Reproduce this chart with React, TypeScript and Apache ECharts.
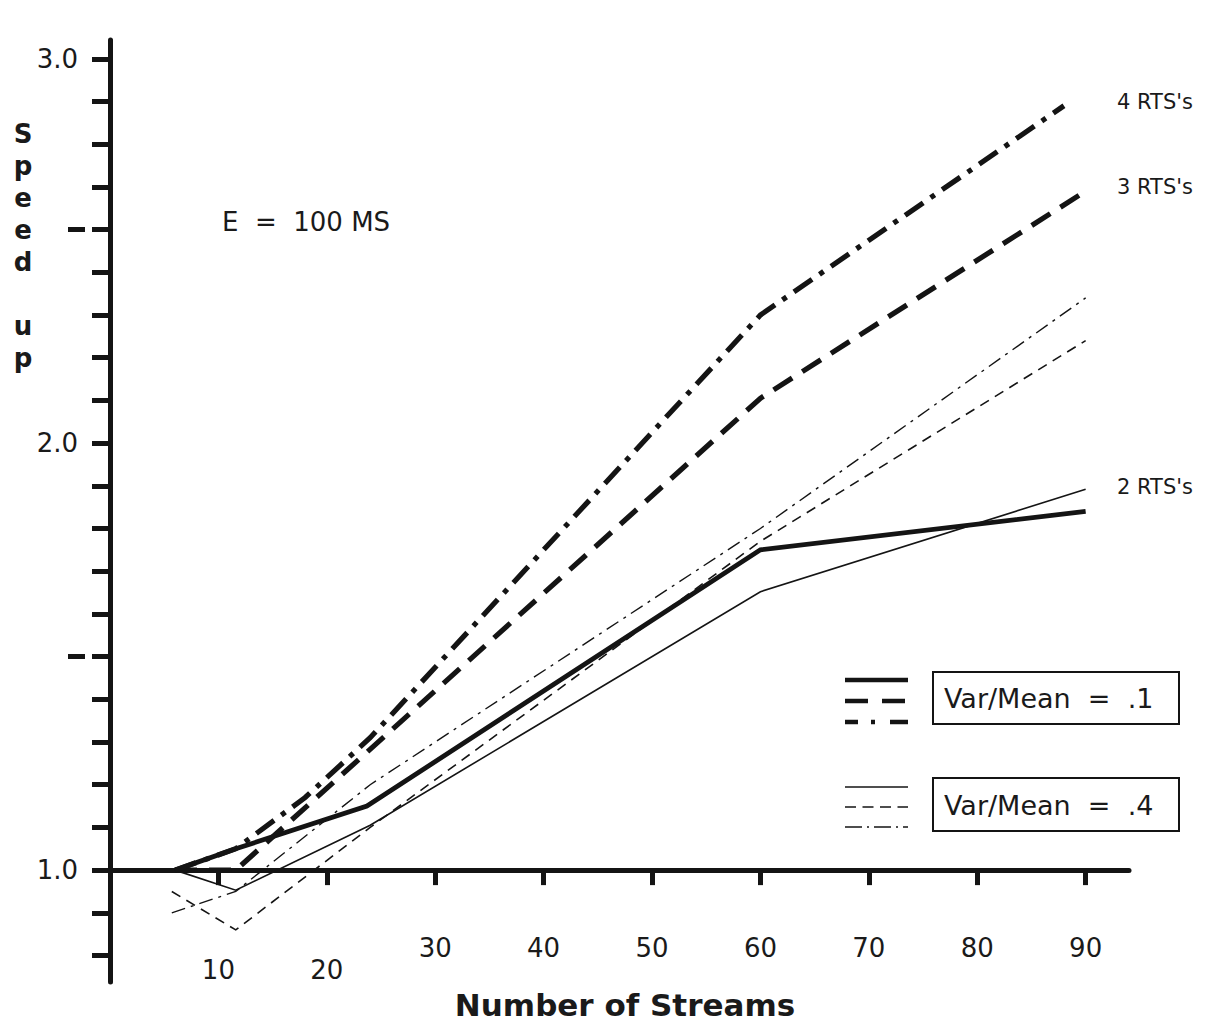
import React, { useEffect, useRef } from "react";
import * as echarts from "echarts";

// Series values: [number of streams, speed up]
const thickSolid2 = [[6, 1.0], [11.6, 1.05], [23.7, 1.15], [60, 1.75], [90, 1.84]];
const thickDashed3 = [[6, 1.0], [11.6, 1.0], [60, 2.105], [90, 2.59]];
const thickDashDot4 = [[6, 1.0], [11.6, 1.05], [18, 1.17], [24, 1.31], [60, 2.3], [88, 2.79]];
const thinSolid2 = [[6, 1.0], [11.6, 0.953], [24, 1.105], [60, 1.652], [90, 1.892]];
const thinDashed3 = [[5.7, 0.95], [11.6, 0.86], [24, 1.1], [60, 1.77], [90, 2.24]];
const thinDashDot4 = [[5.7, 0.9], [11.6, 0.95], [24, 1.2], [60, 1.8], [90, 2.34]];

const xTicks = [10, 20, 30, 40, 50, 60, 70, 80, 90];
const xLowLabels = [10, 20];
const yTicks = [0.8, 0.9, 1.0, 1.1, 1.2, 1.3, 1.4, 1.5, 1.6, 1.7, 1.8, 1.9, 2.0, 2.1, 2.2, 2.3, 2.4, 2.5, 2.6, 2.7, 2.8, 2.9];
const yLabelValues = [1.0, 2.0, 2.9];
const yLabelTexts = ["1.0", "2.0", "3.0"];
const yHalfMarks = [1.5, 2.5];

const yTitleLetters = ["S", "p", "e", "e", "d", "u", "p"];
const seriesLabels = ["4 RTS's", "3 RTS's", "2 RTS's"];
const legendTexts = ["Var/Mean  =  .1", "Var/Mean  =  .4"];

const INK = "#141414";
const TEXT = "#1a1a1a";
const FONT = "'DejaVu Sans', 'Open Sans', sans-serif";

const THICK_DASH = [22, 12];
const THICK_DASHDOT = [22, 9, 5, 9];
const THIN_DASH = [10, 7];
const THIN_DASHDOT = [14, 6, 3, 6];

const Y_MIN = 0.738;
const Y_MAX = 2.944;
const X_AXIS_AT = 1.0;
const GRID_TOP = 40;
const GRID_BOTTOM = 45;
const HEIGHT = 1027;

export default function App() {
  const ref = useRef<HTMLDivElement>(null);

  useEffect(() => {
    if (!ref.current) return;
    const chart = echarts.init(ref.current, undefined, { renderer: "svg" });

    const gridH = HEIGHT - GRID_TOP - GRID_BOTTOM;
    const xAxisOffset = -((X_AXIS_AT - Y_MIN) / (Y_MAX - Y_MIN)) * gridH;

    const line = (data: number[][], width: number, type: any, z: number) => ({
      type: "line",
      data,
      symbol: "none",
      silent: true,
      z,
      lineStyle: { color: INK, width, type, cap: "butt", join: "miter" },
    });

    const legendLine = (y: number, width: number, dash: any) => ({
      type: "line",
      shape: { x1: 845, y1: y, x2: 908, y2: y },
      style: { stroke: INK, lineWidth: width, lineDash: dash, lineCap: "butt" },
    });

    const yTitleBaselines = [147, 179, 211, 243, 275, 339, 371];
    const yTitle = yTitleLetters.map((ch, i) => ({
      type: "text",
      x: 23,
      y: yTitleBaselines[i],
      style: {
        text: ch,
        fontSize: 26,
        fontWeight: "bold",
        fill: TEXT,
        fontFamily: FONT,
        align: "center",
        verticalAlign: "bottom",
      },
    }));

    const rtsLabel = (text: string, y: number) => ({
      type: "text",
      x: 1117,
      y,
      style: { text, fontSize: 21, fill: TEXT, fontFamily: FONT, verticalAlign: "middle" },
    });

    const option: any = {
      animation: false,
      backgroundColor: "#ffffff",
      grid: {
        left: 110,
        right: 77,
        top: GRID_TOP,
        bottom: GRID_BOTTOM,
        containLabel: false,
        outerBoundsMode: "none",
      },
      xAxis: {
        type: "value",
        min: 0,
        max: 94,
        offset: xAxisOffset,
        axisLine: { show: true, onZero: false, lineStyle: { color: INK, width: 5 } },
        axisTick: {
          show: true,
          customValues: xTicks,
          length: 15,
          inside: false,
          lineStyle: { color: INK, width: 5 },
        },
        axisLabel: {
          show: true,
          customValues: xTicks,
          margin: 67,
          fontSize: 26,
          lineHeight: 22,
          color: TEXT,
          fontFamily: FONT,
          formatter: (v: number) => (xLowLabels.includes(v) ? "\n" + v : String(v)),
        },
        splitLine: { show: false },
      },
      yAxis: [
        {
          type: "value",
          min: Y_MIN,
          max: Y_MAX,
          position: "left",
          axisLine: { show: true, onZero: false, lineStyle: { color: INK, width: 5 } },
          axisTick: {
            show: true,
            customValues: yTicks,
            length: 18,
            inside: false,
            lineStyle: { color: INK, width: 5 },
          },
          axisLabel: {
            show: true,
            customValues: yLabelValues,
            margin: 32,
            fontSize: 26,
            color: TEXT,
            fontFamily: FONT,
            formatter: (v: number) => {
              const i = yLabelValues.findIndex((t) => Math.abs(t - v) < 1e-6);
              return i >= 0 ? yLabelTexts[i] : "";
            },
          },
          splitLine: { show: false },
        },
        {
          type: "value",
          min: Y_MIN,
          max: Y_MAX,
          position: "left",
          offset: 25,
          axisLine: { show: false, onZero: false },
          axisTick: {
            show: true,
            customValues: yHalfMarks,
            length: 17,
            inside: false,
            lineStyle: { color: INK, width: 5 },
          },
          axisLabel: { show: false },
          splitLine: { show: false },
        },
      ],
      series: [
        line(thinSolid2, 1.6, "solid", 2),
        line(thinDashed3, 1.6, THIN_DASH, 2),
        line(thinDashDot4, 1.4, THIN_DASHDOT, 2),
        line(thickSolid2, 4.8, "solid", 3),
        line(thickDashed3, 5.2, THICK_DASH, 3),
        line(thickDashDot4, 5.2, THICK_DASHDOT, 3),
      ],
      graphic: [
        ...yTitle,
        {
          type: "text",
          x: 222,
          y: 222,
          style: {
            text: "E  =  100 MS",
            fontSize: 26,
            fill: TEXT,
            fontFamily: FONT,
            verticalAlign: "middle",
          },
        },
        rtsLabel(seriesLabels[0], 102),
        rtsLabel(seriesLabels[1], 187),
        rtsLabel(seriesLabels[2], 487),
        legendLine(680, 4.5, null),
        legendLine(701, 4.5, [23, 14]),
        legendLine(722, 4.5, [13, 13, 4, 15, 20]),
        legendLine(787, 1.6, null),
        legendLine(807, 1.6, [11, 6.5]),
        legendLine(827, 1.4, [17, 5, 2, 5]),
        {
          type: "rect",
          shape: { x: 933, y: 672, width: 246, height: 52 },
          style: { fill: "none", stroke: INK, lineWidth: 2 },
        },
        {
          type: "rect",
          shape: { x: 933, y: 778, width: 246, height: 53 },
          style: { fill: "none", stroke: INK, lineWidth: 2 },
        },
        {
          type: "text",
          x: 944,
          y: 698,
          style: { text: legendTexts[0], fontSize: 27, fill: TEXT, fontFamily: FONT, verticalAlign: "middle" },
        },
        {
          type: "text",
          x: 944,
          y: 805,
          style: { text: legendTexts[1], fontSize: 27, fill: TEXT, fontFamily: FONT, verticalAlign: "middle" },
        },
        {
          type: "text",
          x: 625,
          y: 1005,
          style: {
            text: "Number of Streams",
            fontSize: 31,
            fontWeight: "bold",
            fill: TEXT,
            fontFamily: FONT,
            align: "center",
            verticalAlign: "middle",
          },
        },
      ],
    };

    chart.setOption(option);
    return () => chart.dispose();
  }, []);

  return (
    <div
      ref={ref}
      style={{ position: "fixed", left: 0, top: 0, width: 1206, height: 1027, background: "#fff" }}
    />
  );
}
